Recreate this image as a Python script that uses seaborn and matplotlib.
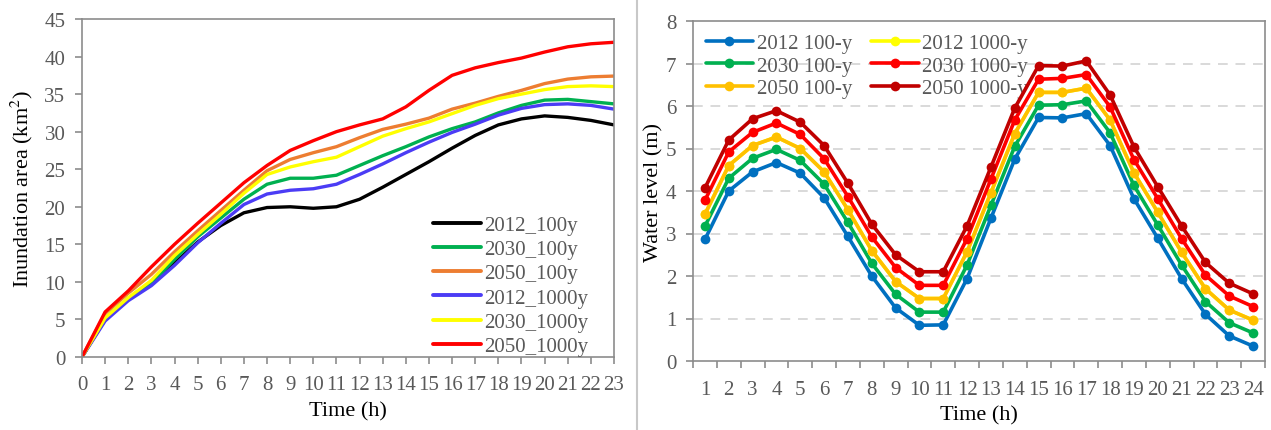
import numpy as np
import pandas as pd
import matplotlib
matplotlib.use("Agg")
import matplotlib.pyplot as plt
import seaborn as sns
from matplotlib.lines import Line2D

# ---------------- data: left panel (inundation area, km2) ----------------
hours_left = list(range(0, 24))
area_2012_100y = [0, 5.0, 7.8, 9.7, 12.5, 15.3, 17.5, 19.2, 19.9, 20.0, 19.8, 20.0,
                  21.0, 22.6, 24.3, 26.0, 27.8, 29.5, 30.9, 31.7, 32.1, 31.9, 31.5, 30.9]
area_2030_100y = [0, 5.2, 7.8, 9.8, 13.0, 16.0, 18.5, 21.0, 23.0, 23.8, 23.8, 24.2,
                  25.5, 26.8, 28.0, 29.3, 30.4, 31.3, 32.5, 33.5, 34.2, 34.3, 34.0, 33.7]
area_2050_100y = [0, 5.8, 8.5, 11.0, 14.0, 16.8, 19.5, 22.2, 24.8, 26.3, 27.2, 28.0,
                  29.2, 30.3, 31.0, 31.8, 33.0, 33.8, 34.7, 35.5, 36.4, 37.0, 37.3, 37.4]
area_2012_1000y = [0, 4.8, 7.5, 9.5, 12.2, 15.2, 17.8, 20.3, 21.7, 22.2, 22.4, 23.0,
                   24.3, 25.7, 27.2, 28.6, 29.9, 31.0, 32.2, 33.1, 33.6, 33.7, 33.5, 33.0]
area_2030_1000y = [0, 5.2, 7.9, 10.2, 13.5, 16.3, 19.0, 21.8, 24.3, 25.3, 26.0, 26.6,
                   28.0, 29.4, 30.4, 31.3, 32.4, 33.5, 34.4, 35.0, 35.6, 36.0, 36.1, 36.0]
area_2050_1000y = [0, 6.0, 8.8, 12.0, 15.0, 17.8, 20.5, 23.2, 25.5, 27.5, 28.8, 30.0,
                   30.9, 31.7, 33.3, 35.5, 37.5, 38.5, 39.2, 39.8, 40.6, 41.3, 41.7, 41.9]
left_labels = ["2012_100y", "2030_100y", "2050_100y", "2012_1000y", "2030_1000y", "2050_1000y"]
left_colors = ["#000000", "#00B050", "#ED7D31", "#4B3CF5", "#FFFF00", "#FF0000"]

# ---------------- data: right panel (water level, m) ----------------
hours_right = list(range(1, 25))
wl_2012_100 = [2.86, 4.00, 4.45, 4.67, 4.42, 3.84, 2.93, 2.00, 1.25, 0.84, 0.85, 1.94,
               3.36, 4.75, 5.73, 5.72, 5.82, 5.07, 3.82, 2.89, 1.94, 1.10, 0.59, 0.35]
wl_2030_100 = [3.17, 4.30, 4.77, 4.98, 4.72, 4.16, 3.26, 2.30, 1.57, 1.15, 1.15, 2.26,
               3.66, 5.05, 6.02, 6.03, 6.12, 5.37, 4.13, 3.20, 2.26, 1.40, 0.90, 0.66]
wl_2050_100 = [3.45, 4.60, 5.07, 5.27, 5.00, 4.45, 3.56, 2.60, 1.87, 1.47, 1.47, 2.57,
               3.96, 5.35, 6.32, 6.32, 6.42, 5.67, 4.43, 3.50, 2.56, 1.70, 1.20, 0.96]
wl_2012_1000 = [3.45, 4.60, 5.07, 5.27, 5.00, 4.45, 3.56, 2.60, 1.87, 1.47, 1.47, 2.57,
                3.96, 5.35, 6.32, 6.32, 6.42, 5.67, 4.43, 3.50, 2.56, 1.70, 1.20, 0.96]
wl_2030_1000 = [3.78, 4.92, 5.38, 5.60, 5.33, 4.76, 3.87, 2.92, 2.20, 1.78, 1.78, 2.88,
                4.28, 5.67, 6.63, 6.65, 6.74, 5.98, 4.74, 3.82, 2.88, 2.02, 1.53, 1.28]
wl_2050_1000 = [4.07, 5.20, 5.70, 5.89, 5.62, 5.07, 4.18, 3.22, 2.50, 2.10, 2.10, 3.18,
                4.56, 5.95, 6.95, 6.94, 7.06, 6.26, 5.04, 4.10, 3.18, 2.32, 1.83, 1.58]
right_labels = ["2012 100-y", "2030 100-y", "2050 100-y", "2012 1000-y", "2030 1000-y", "2050 1000-y"]
right_colors = ["#0070C0", "#00B050", "#FFC000", "#FFFF00", "#FF0000", "#C00000"]

# ---------------- style ----------------
sns.set_style("white")
plt.rcParams['font.family'] = ['Liberation Serif', 'DejaVu Serif']
plt.rcParams['mathtext.fontset'] = 'stix'
TICK_C = "#595959"
SPINE_C = "#8C8C8C"
TICK_FS = 15
LABEL_FS = 16
LEG_FS = 15

fig = plt.figure(figsize=(12.71, 4.31), dpi=100)
axL = fig.add_axes([82/1271, 1-358/431, (614-82)/1271, (358-20)/431])
axR = fig.add_axes([693/1271, 1-362/431, (1265-693)/1271, (362-22)/431])

# ---- left panel ----
left_series = [area_2012_100y, area_2030_100y, area_2050_100y,
               area_2012_1000y, area_2030_1000y, area_2050_1000y]
dfL = pd.DataFrame({"hour": hours_left * 6,
                    "area": sum(left_series, []),
                    "scenario": sum([[l] * len(hours_left) for l in left_labels], [])})
sns.lineplot(data=dfL, x="hour", y="area", hue="scenario", hue_order=left_labels,
             palette=left_colors, linewidth=2.4, ax=axL, legend=False)
axL.set_xlim(0, 23)
axL.set_ylim(0, 45)
axL.set_xticks(range(0, 24))
axL.set_yticks(range(0, 46, 5))
axL.set_xlabel("Time (h)", fontsize=LABEL_FS, color="#000000", labelpad=5)
axL.set_ylabel("Inundation area (km$^2$)", fontsize=LABEL_FS, color="#000000", labelpad=7)
handlesL = [Line2D([], [], color=c, lw=2.8) for c in left_colors]
axL.legend(handlesL, left_labels, loc="lower right", frameon=False, fontsize=LEG_FS,
           labelcolor=TICK_C, handlelength=2.3, handletextpad=0.15, labelspacing=0.22,
           borderaxespad=0.0, borderpad=0.05, bbox_to_anchor=(0.953, 0.0))

# ---- right panel ----
right_series = [wl_2012_100, wl_2030_100, wl_2050_100, wl_2012_1000, wl_2030_1000, wl_2050_1000]
zorders = [3, 4, 6, 5, 7, 8]
handlesR = []
for vals, lab, col, z in zip(right_series, right_labels, right_colors, zorders):
    sns.lineplot(x=hours_right, y=vals, color=col, linewidth=2.6, marker="o",
                 markersize=7, markeredgewidth=0, ax=axR, zorder=z, legend=False)
    handlesR.append(Line2D([], [], color=col, lw=2.6, marker="o", markersize=7,
                           markeredgewidth=0))
axR.set_xlim(0.5, 24.5)
axR.set_ylim(0, 8)
axR.set_yticks(range(0, 9))
axR.set_xticks(hours_right)
axR.set_xticks(np.arange(0.5, 25, 1), minor=True)
axR.tick_params(axis="x", which="major", length=0)
axR.tick_params(axis="x", which="minor", length=5, width=1.2, color=SPINE_C, direction="out")
for yv in range(1, 8):
    axR.axhline(yv, color="#D9D9D9", lw=1.4, ls=(0, (5, 4)), zorder=1)
axR.set_xlabel("Time (h)", fontsize=LABEL_FS, color="#000000", labelpad=4)
axR.set_ylabel("Water level (m)", fontsize=LABEL_FS, color="#000000", labelpad=2)
axR.legend(handlesR, right_labels, loc="upper left", ncol=2, frameon=False, fontsize=LEG_FS,
           labelcolor=TICK_C, handlelength=2.3, handletextpad=0.15, labelspacing=0.14,
           columnspacing=0.9, borderaxespad=0.0, borderpad=0.6, bbox_to_anchor=(0.0, 1.0))

for ax in (axL, axR):
    for s in ax.spines.values():
        s.set_visible(True)
        s.set_color(SPINE_C)
        s.set_linewidth(1.2)
    ax.tick_params(axis="both", which="major", labelsize=TICK_FS, labelcolor=TICK_C)
    ax.tick_params(axis="y", which="major", left=True, length=5, width=1.2, color=SPINE_C,
                   direction="out", pad=7)
axL.tick_params(axis="x", which="major", bottom=True, length=5, width=1.2, color=SPINE_C,
                direction="out", pad=8)
axR.tick_params(axis="x", which="minor", bottom=True)
axR.tick_params(axis="x", which="major", pad=14)

# separator line between panels
fig.add_artist(Line2D([637/1271, 637/1271], [0, 1], transform=fig.transFigure,
                      color="#C8C8C8", lw=1.5))

fig.savefig("out.png", dpi=100)
